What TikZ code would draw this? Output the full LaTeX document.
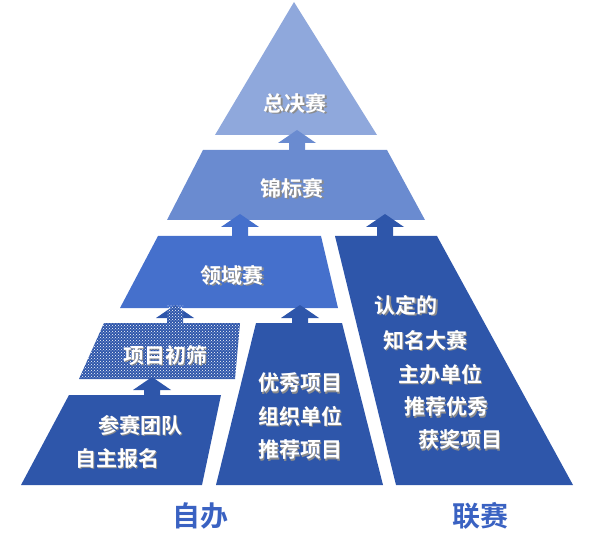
\documentclass[tikz,border=0pt]{standalone}
\usepackage{fontspec}
\setmainfont{Noto Sans CJK SC Bold}
\usetikzlibrary{patterns}
\definecolor{topc}{HTML}{8FA8DC}
\definecolor{jinc}{HTML}{6A8BD0}
\definecolor{lyc}{HTML}{4570CC}
\definecolor{colc}{HTML}{2E56AA}
\definecolor{labc}{HTML}{3A62C2}
\tikzset{
  lbl/.style={text=white, font=\fontsize{21}{26}\selectfont},
  shd/.style={text=black!45, font=\fontsize{21}{26}\selectfont},
  foot/.style={text=labc, font=\fontsize{28}{32}\selectfont}
}
% up arrow: x, tip y, base y, colour
\newcommand{\uparr}[4]{%
  \fill[#4] (#1-8,#3) -- (#1-8,#2+13) -- (#1-19,#2+13) -- (#1,#2) -- (#1+19,#2+13) -- (#1+8,#2+13) -- (#1+8,#3) -- cycle;}
\newcommand{\txt}[3]{%
  \node[shd] at (#1+1.5,#2+1.5) {#3};
  \node[lbl] at (#1,#2) {#3};}
\begin{document}
\begin{tikzpicture}[x=1pt,y=-1pt]
        \useasboundingbox (0,0) rectangle (600,540);

        \fill[topc] (294,2) -- (377,135) -- (215,135) -- cycle;
        \fill[jinc] (203,150) -- (387,150) -- (425,220) -- (167,220) -- cycle;
        \fill[lyc] (158,236) -- (321,236) -- (338,308) -- (120,308) -- cycle;
        \fill[colc] (335,236) -- (437,236) -- (573,485) -- (396,485) -- cycle;
        \fill[colc] (256,323) -- (342,323) -- (383,485) -- (216,485) -- cycle;
        \fill[colc] (104,323) -- (240,323) -- (235,379) -- (79,379) -- cycle;
        \fill[pattern=crosshatch dots, pattern color=white] (104,323) -- (240,323) -- (235,379) -- (79,379) -- cycle;
        \fill[colc] (69,395) -- (221,395) -- (202,485) -- (21,485) -- cycle;

        \uparr{297}{130}{151}{jinc}
        \uparr{240}{214}{237}{lyc}
        \uparr{385}{214}{237}{colc}
        \uparr{175}{305}{324}{colc}
        \fill[pattern=crosshatch dots, pattern color=white] (167,305) -- (183,305) -- (183,324) -- (167,324) -- cycle;
        \uparr{152}{377}{396}{colc}
        \uparr{300}{305}{324}{colc}

        \txt{295}{103}{总决赛}
        \txt{292}{188}{锦标赛}
        \txt{232}{275}{领域赛}
        \txt{165}{355}{项目初筛}
        \txt{140}{425}{参赛团队}
        \txt{117}{458}{自主报名}
        \txt{300}{383}{优秀项目}
        \txt{300}{416}{组织单位}
        \txt{300}{450}{推荐项目}
        \txt{406}{305}{认定的}
        \txt{425}{340}{知名大赛}
        \txt{440}{374}{主办单位}
        \txt{446}{407}{推荐优秀}
        \txt{460}{440}{获奖项目}

        \node[foot] (ziban) at (200,516) {自办};
        \node[foot] (liansai) at (480,516) {联赛};
    \end{tikzpicture}
\end{document}
